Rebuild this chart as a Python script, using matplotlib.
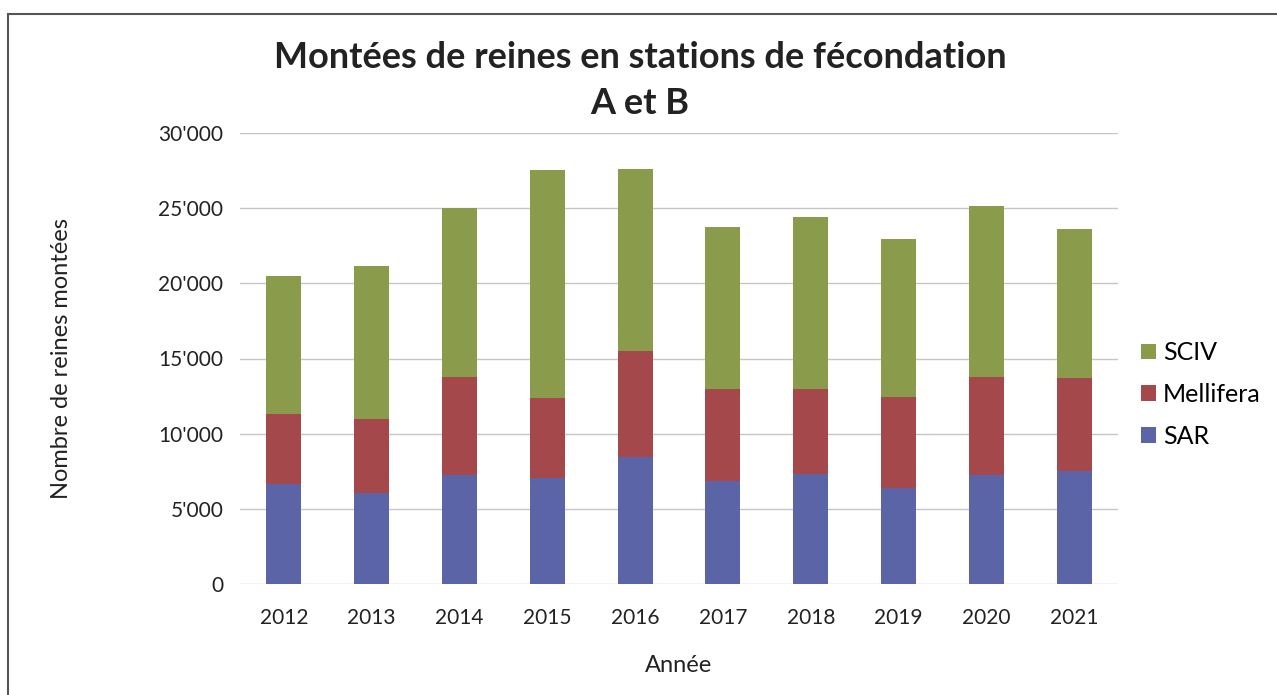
import matplotlib.pyplot as plt
from matplotlib.patches import Rectangle
from matplotlib.ticker import FuncFormatter
import numpy as np

plt.rcParams['font.family'] = ['Lato', 'DejaVu Sans']

years = ['2012', '2013', '2014', '2015', '2016', '2017', '2018', '2019', '2020', '2021']
sar = [6620, 6060, 7280, 7060, 8480, 6840, 7350, 6390, 7280, 7500]
mellifera = [4660, 4890, 6510, 5310, 7000, 6100, 5590, 6040, 6490, 6220]
sciv = [9190, 10190, 11210, 15160, 12120, 10800, 11480, 10490, 11350, 9880]

c_sar = '#5a64a6'
c_mel = '#a5484c'
c_sciv = '#8a9c4b'

fig = plt.figure(figsize=(12.77, 6.95), dpi=100)
ax = fig.add_axes([240/1277, 1 - 584/695, (1118-240)/1277, (584-133)/695])

x = np.arange(len(years))
w = 0.4
ax.bar(x, sar, w, color=c_sar, label='SAR', zorder=3)
ax.bar(x, mellifera, w, bottom=sar, color=c_mel, label='Mellifera', zorder=3)
bot2 = np.array(sar) + np.array(mellifera)
ax.bar(x, sciv, w, bottom=bot2, color=c_sciv, label='SCIV', zorder=3)

ax.set_ylim(0, 30000)
ax.set_xlim(-0.5, len(years) - 0.5)
ax.set_yticks(range(0, 30001, 5000))
ax.yaxis.set_major_formatter(FuncFormatter(lambda v, p: '0' if v == 0 else f"{int(v):,}".replace(',', "'")))
ax.set_xticks(x)
ax.set_xticklabels(years)
ax.grid(axis='y', color='#c8c4c8', linewidth=1, zorder=0)
for s in ax.spines.values():
    s.set_visible(False)
ax.tick_params(length=0, labelsize=15, colors='#222222')
ax.tick_params(axis='x', pad=17)
ax.tick_params(axis='y', pad=12)

ax.set_xlabel('Année', fontsize=17, color='#222222', labelpad=20)
ax.set_ylabel('Nombre de reines montées', fontsize=17, color='#222222', labelpad=62)

fig.text(640/1277, 1 - 58/695, 'Montées de reines en stations de fécondation',
         ha='center', va='center', fontsize=26, fontweight='bold', color='#222222')
fig.text(640/1277, 1 - 103/695, 'A et B',
         ha='center', va='center', fontsize=26, fontweight='bold', color='#222222')

h, l = ax.get_legend_handles_labels()
ax.legend(h[::-1], l[::-1], loc='center left', bbox_to_anchor=(1.0, 0.42),
          frameon=False, fontsize=18, handlelength=0.6, handleheight=0.6,
          handletextpad=0.3, labelspacing=0.75)

fig.patches.append(Rectangle((8/1277, -0.1), 1.2, 1.1 - 14/695, transform=fig.transFigure,
                             fill=False, edgecolor='#555555', linewidth=1.5))

fig.savefig('out.png', dpi=100)
